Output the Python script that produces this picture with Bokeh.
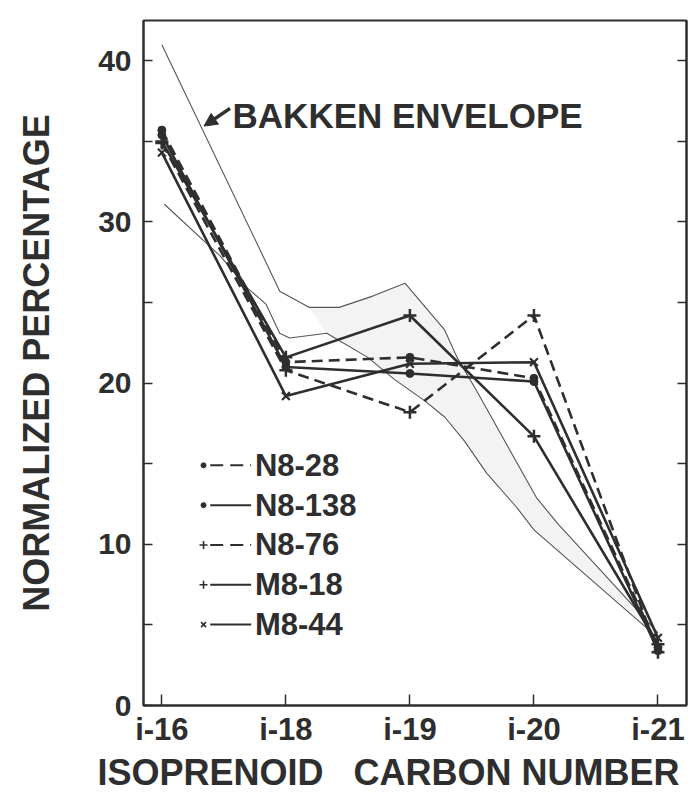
from bokeh.plotting import figure
from bokeh.models import Range1d, FixedTicker, LinearAxis, Label, Arrow, NormalHead, Title
from bokeh.embed import file_html
from bokeh.resources import INLINE

# ---- data ----
categories = ["i-16", "i-18", "i-19", "i-20", "i-21"]
cat_pos = [0, 1, 2, 3, 4]

n8_28 = [35.7, 21.3, 21.6, 20.3, 3.6]
n8_138 = [35.4, 21.0, 20.6, 20.1, 3.4]
n8_76 = [34.9, 20.8, 18.2, 24.2, 3.3]
m8_18 = [35.0, 21.6, 24.2, 16.7, 3.8]
m8_44 = [34.3, 19.2, 21.2, 21.3, 4.2]

series_names = ["N8-28", "N8-138", "N8-76", "M8-18", "M8-44"]
series_values = [n8_28, n8_138, n8_76, m8_18, m8_44]
series_marker = ["circle", "circle", "cross", "cross", "x"]
series_dash = ["dashed", "solid", "dashed", "solid", "solid"]

# Bakken envelope boundaries (category position, percentage)
env_up_x = [0.0, 0.92, 0.95, 1.19, 1.43, 1.70, 1.96, 2.28, 2.38, 2.54, 3.02, 3.19, 4.0]
env_up_y = [41.0, 26.2, 25.7, 24.7, 24.7, 25.4, 26.2, 23.3, 21.6, 19.5, 12.9, 11.3, 4.5]
env_lo_x = [0.02, 0.47, 0.69, 0.84, 0.95, 1.03, 1.33, 1.66, 1.88, 2.12, 2.28, 2.44, 2.62, 2.86, 3.0, 3.91, 3.98]
env_lo_y = [31.1, 27.9, 25.9, 24.9, 23.1, 22.8, 23.1, 21.6, 20.2, 18.9, 17.9, 16.4, 14.4, 12.3, 10.9, 4.8, 4.3]

y_ticks = [0, 5, 10, 15, 20, 25, 30, 35, 40]
y_tick_labels = ["0", "", "10", "", "20", "", "30", "", "40"]

# ---- style ----
INK = "#2e2e2e"
FONT = "Liberation Sans"
DASH = "11 6"

p = figure(width=696, height=792, x_range=Range1d(-0.148, 4.23), y_range=Range1d(0, 42.5),
           output_backend="svg", toolbar_location=None,
           min_border_left=143, min_border_right=10, min_border_top=20, min_border_bottom=87)
p.background_fill_color = "white"
p.border_fill_color = "white"
p.grid.visible = False
p.outline_line_color = INK
p.outline_line_width = 2

# x axis
p.xaxis.ticker = FixedTicker(ticks=cat_pos)
p.xaxis.major_label_overrides = {pos: lab for pos, lab in zip(cat_pos, categories)}
p.xaxis.major_tick_in = 11
p.xaxis.major_tick_out = 0
p.xaxis.minor_tick_line_color = None
p.xaxis.axis_line_width = 2
p.xaxis.axis_line_color = INK
p.xaxis.major_tick_line_color = INK
p.xaxis.major_tick_line_width = 1.5
p.xaxis.major_label_text_font = FONT
p.xaxis.major_label_text_font_style = "bold"
p.xaxis.major_label_text_font_size = "31px"
p.xaxis.major_label_text_color = INK
p.xaxis.major_label_standoff = 6

# y axis
p.yaxis.ticker = FixedTicker(ticks=y_ticks)
p.yaxis.major_label_overrides = {t: l for t, l in zip(y_ticks, y_tick_labels)}
p.yaxis.major_tick_in = 9
p.yaxis.major_tick_out = 0
p.yaxis.minor_tick_line_color = None
p.yaxis.axis_line_width = 2
p.yaxis.axis_line_color = INK
p.yaxis.major_tick_line_color = INK
p.yaxis.major_tick_line_width = 1.5
p.yaxis.major_label_text_font = FONT
p.yaxis.major_label_text_font_style = "bold"
p.yaxis.major_label_text_font_size = "30px"
p.yaxis.major_label_text_color = INK
p.yaxis.major_label_standoff = 12
p.yaxis.axis_label = "NORMALIZED PERCENTAGE"
p.yaxis.axis_label_text_font = FONT
p.yaxis.axis_label_text_font_style = "bold"
p.yaxis.axis_label_text_font_size = "36px"
p.yaxis.axis_label_text_color = INK
p.yaxis.axis_label_standoff = 38

# right axis: ticks only
right_ax = LinearAxis(ticker=FixedTicker(ticks=y_ticks[1:]),
                      major_label_overrides={t: "" for t in y_ticks},
                      major_tick_in=9, major_tick_out=0, major_label_standoff=0,
                      axis_line_width=2, axis_line_color=INK,
                      major_tick_line_color=INK, major_tick_line_width=1.5,
                      minor_tick_line_color=None, major_label_text_font_size="1px")
p.add_layout(right_ax, "right")

# x axis title (below the axis, starting left of the frame like the original)
p.add_layout(Title(text="ISOPRENOID\u00a0\u00a0\u00a0CARBON NUMBER", align="left", offset=-46,
                   text_font=FONT, text_font_style="bold", text_font_size="36px",
                   text_color=INK, standoff=0), "below")

# envelope shading + boundary lines
k_up = 3
k_lo = 6
shade_x = env_up_x[k_up:] + env_lo_x[k_lo:][::-1]
shade_y = env_up_y[k_up:] + env_lo_y[k_lo:][::-1]
p.patch(shade_x, shade_y, fill_color="#d4d4d4", fill_alpha=0.28, line_color=None)
p.line(env_up_x, env_up_y, line_color="#555555", line_width=1.1)
p.line(env_lo_x, env_lo_y, line_color="#555555", line_width=1.1)

# data series
for name, vals, mk, dash in zip(series_names, series_values, series_marker, series_dash):
    p.line(cat_pos, vals, line_color=INK, line_width=2.6, line_dash=dash if dash == "solid" else DASH)
    if mk == "circle":
        p.scatter(cat_pos, vals, marker="circle", size=8, fill_color=INK, line_color=INK)
    elif mk == "cross":
        p.scatter(cat_pos, vals, marker="cross", size=13, line_color=INK, line_width=2.5)
    else:
        p.scatter(cat_pos, vals, marker="x", size=11, line_color=INK, line_width=2.2)

# legend (hand drawn, like the original)
leg_top = 14.9
leg_step = 2.47
leg_mark_x = 0.336
leg_line_x0 = 0.39
leg_line_x1 = 0.72
leg_text_x = 0.75
for i, (name, mk, dash) in enumerate(zip(series_names, series_marker, series_dash)):
    yy = leg_top - i * leg_step
    p.line([leg_line_x0, leg_line_x1], [yy, yy], line_color=INK, line_width=2,
           line_dash="solid" if dash == "solid" else "13 7")
    if mk == "circle":
        p.scatter([leg_mark_x], [yy], marker="circle", size=5, fill_color=INK, line_color=INK)
    elif mk == "cross":
        p.scatter([leg_mark_x], [yy], marker="cross", size=8, line_color=INK, line_width=1.6)
    else:
        p.scatter([leg_mark_x], [yy], marker="x", size=7, line_color=INK, line_width=1.6)
    p.add_layout(Label(x=leg_text_x, y=yy, text=name, text_baseline="middle",
                       text_font=FONT, text_font_style="bold",
                       text_font_size="31px", text_color=INK))

# Bakken envelope annotation
p.add_layout(Arrow(end=NormalHead(size=13, fill_color=INK, line_color=INK),
                   x_start=0.55, y_start=37.05, x_end=0.34, y_end=35.95,
                   line_color=INK, line_width=3.5))
p.add_layout(Label(x=0.57, y=36.6, text="BAKKEN ENVELOPE", text_baseline="middle",
                   text_font=FONT, text_font_style="bold",
                   text_font_size="35px", text_color=INK))

open("out.html", "w").write(file_html(p, INLINE))
